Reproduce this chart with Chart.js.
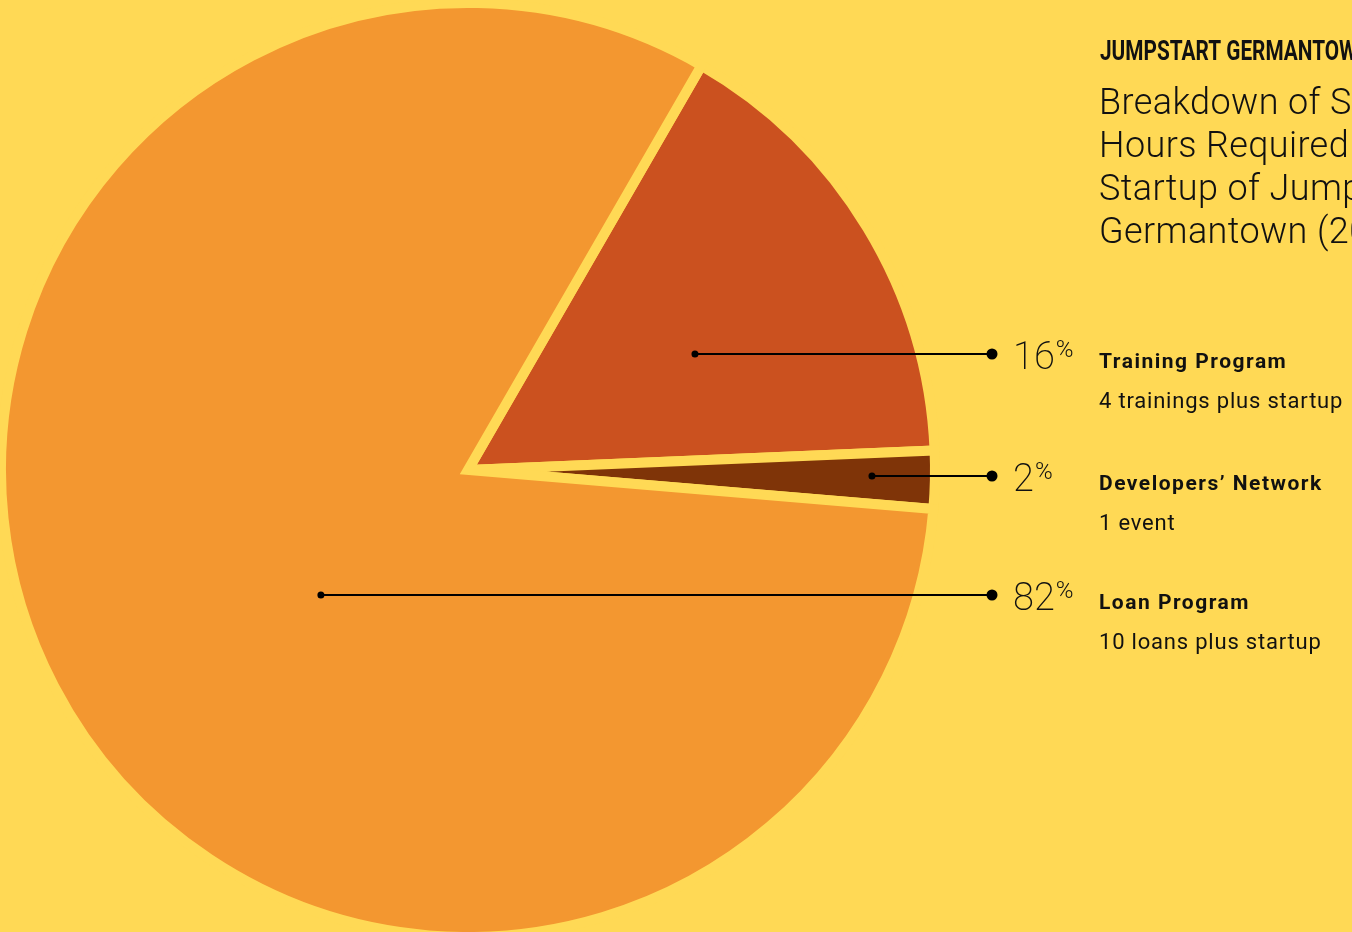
<!DOCTYPE html>
<html>
<head>
<meta charset="utf-8">
<script src="https://cdn.jsdelivr.net/npm/chart.js@4"></script>
<style>
  html, body { margin: 0; padding: 0; background: #FFD955; overflow: hidden; }
  #wrap { position: relative; width: 1352px; height: 932px; }
</style>
</head>
<body>
<div id="wrap"><canvas id="pieChart"></canvas></div>
<script>
// data
const categories = ['Training Program', 'Developers\u2019 Network', 'Loan Program'];
const descriptions = ['4 trainings plus startup', '1 event', '10 loans plus startup'];
const shares = [16, 2, 82];
const colors = ['#CB511F', '#7F3408', '#F39730'];

const kicker = 'JUMPSTART GERMANTOWN';
const titleLines = ['Breakdown of Staff', 'Hours Required for', 'Startup of Jumpstart', 'Germantown (2014)'];

// layout of the callouts (row y, where the leader starts as a fraction of the radius)
const rowY = [354, 476, 595];
const anchorFrac = [0.486, 0.865, -0.315];

const calloutPlugin = {
    id: 'callouts',
    afterDraw(chart) {
        const ctx = chart.ctx;
        const arcs = chart.getDatasetMeta(0).data;
        const cx = arcs[0].x;
        const r = arcs[0].outerRadius;

        ctx.save();
        ctx.fillStyle = '#111';
        ctx.textBaseline = 'alphabetic';

        // header, condensed by squeezing horizontally
        ctx.save();
        ctx.translate(1100, 60);
        ctx.scale(0.77, 1);
        ctx.font = 'bold 27px Roboto, sans-serif';
        ctx.fillText(kicker, 0, 0);
        ctx.restore();

        ctx.font = '300 36px Roboto, sans-serif';
        ctx.letterSpacing = '0.4px';
        titleLines.forEach((t, i) => ctx.fillText(t, 1099, 114 + i * 43));
        ctx.letterSpacing = '0px';

        shares.forEach((v, i) => {
            const y = rowY[i];
            const x0 = cx + anchorFrac[i] * r;
            ctx.strokeStyle = '#000';
            ctx.lineWidth = 2;
            ctx.beginPath();
            ctx.moveTo(x0, y);
            ctx.lineTo(992, y);
            ctx.stroke();
            ctx.fillStyle = '#000';
            ctx.beginPath();
            ctx.arc(x0, y, 3.5, 0, Math.PI * 2);
            ctx.fill();
            ctx.beginPath();
            ctx.arc(992, y, 5.5, 0, Math.PI * 2);
            ctx.fill();

            // percentage
            ctx.fillStyle = '#111';
            ctx.font = '200 38px Roboto, sans-serif';
            const num = String(v);
            ctx.fillText(num, 1013, y + 15);
            const w = ctx.measureText(num).width;
            ctx.font = '300 24px Roboto, sans-serif';
            ctx.fillText('%', 1013 + w + 1, y + 3);

            // label and description
            ctx.font = 'bold 21px Roboto, sans-serif';
            ctx.letterSpacing = '1.5px';
            ctx.fillText(categories[i], 1099, y + 14);
            ctx.letterSpacing = '0.8px';
            ctx.font = '22px Roboto, sans-serif';
            ctx.fillText(descriptions[i], 1099, y + 54);
            ctx.letterSpacing = '0px';
        });
        ctx.restore();
    }
};

const ctx = document.getElementById('pieChart').getContext('2d');
new Chart(ctx, {
    type: 'pie',
    data: {
        labels: categories,
        datasets: [{
            data: shares,
            backgroundColor: colors,
            borderColor: '#FFD955',
            borderWidth: 10,
            borderJoinStyle: 'miter',
            hoverOffset: 0
        }]
    },
    options: {
        responsive: true,
        maintainAspectRatio: false,
        animation: false,
        events: [],
        rotation: 30,
        radius: 467,
        layout: { padding: { left: 1, right: 417, top: 8, bottom: 0 } },
        plugins: {
            legend: { display: false },
            tooltip: { enabled: false }
        }
    },
    plugins: [calloutPlugin]
});
</script>
</body>
</html>
